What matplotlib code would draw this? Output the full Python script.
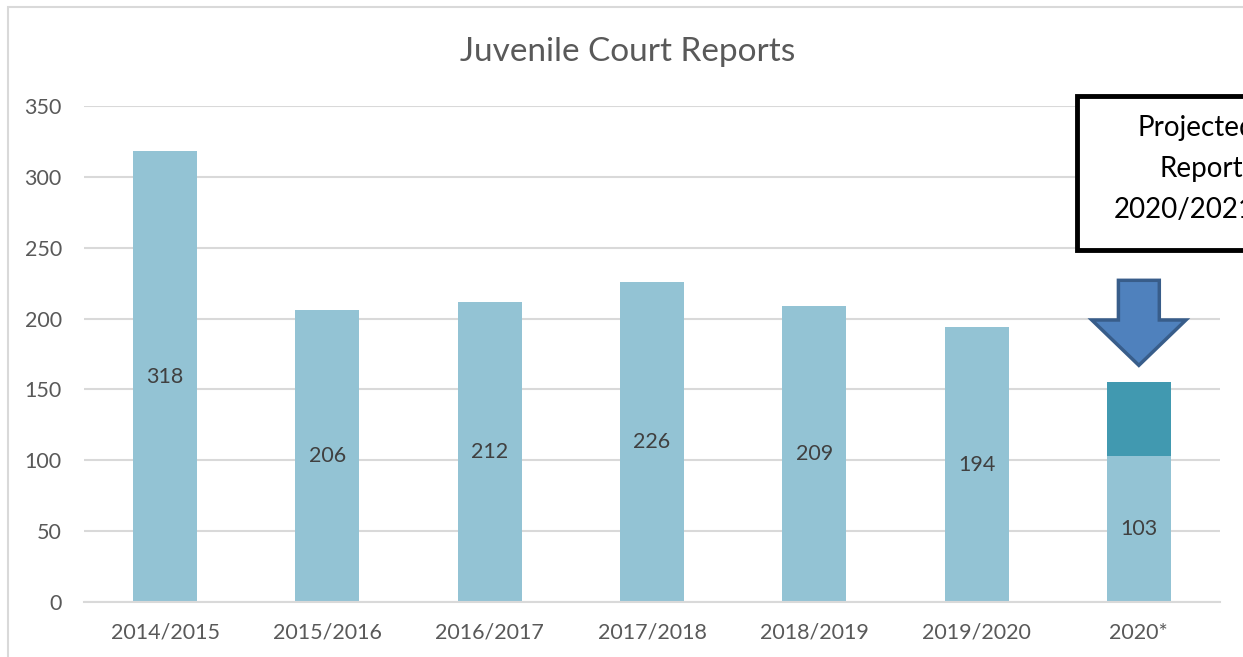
import matplotlib
matplotlib.use('Agg')
import matplotlib.pyplot as plt
import matplotlib.patches as mpatches

# data
years     = ['2014/2015', '2015/2016', '2016/2017', '2017/2018', '2018/2019', '2019/2020', '2020*']
reports   = [318, 206, 212, 226, 209, 194, 103]
projected = [0, 0, 0, 0, 0, 0, 52]   # extra on top of 2020* to reach projection
yticks    = [0, 50, 100, 150, 200, 250, 300, 350]

C_BAR = '#93C3D4'; C_PROJ = '#4199B0'
C_TXT = '#595959'; C_GRID = '#D9D9D9'

plt.rcParams['font.family'] = ['Lato', 'DejaVu Sans']

fig = plt.figure(figsize=(12.43, 6.57), dpi=100)
ax = fig.add_axes([84/1243, 1 - 602/657, (1220-84)/1243, (602-106)/657])

x = list(range(len(years)))
ax.bar(x, reports, width=0.395, color=C_BAR, zorder=2)
ax.bar(x, projected, bottom=reports, width=0.395, color=C_PROJ, zorder=2)

for xi, v in zip(x, reports):
    ax.text(xi, v / 2, str(v), ha='center', va='center', fontsize=15.5, color='#404040', zorder=3)

ax.set_xlim(-0.5, len(years) - 0.5)
ax.set_ylim(0, 350)
ax.set_yticks(yticks)
ax.set_xticks(x)
ax.set_xticklabels(years)
ax.yaxis.grid(True, color=C_GRID, lw=1.5, zorder=0)
ax.tick_params(length=0, labelsize=15.5, colors=C_TXT)
ax.tick_params(axis='x', pad=15)
ax.tick_params(axis='y', pad=16)
for s in ax.spines.values():
    s.set_visible(False)
ax.spines['bottom'].set_visible(True)
ax.spines['bottom'].set_color(C_GRID)
ax.spines['bottom'].set_linewidth(1.5)

fig.text(628/1243, 1 - 52/657, 'Juvenile Court Reports', ha='center', va='center',
         fontsize=24, color=C_TXT)

# chart outer border (clipped at right/bottom edge of the image)
fig.patches.append(mpatches.Rectangle((8/1243, -0.05), 1.2, 1.05 - 7/657, transform=fig.transFigure,
                                      fill=False, ec=C_GRID, lw=1.5))

# callout box (runs past the right edge, as in the original)
fig.patches.append(mpatches.Rectangle((1077/1243, 1 - 250/657), 0.2, 154/657, transform=fig.transFigure,
                                      fill=True, fc='white', ec='black', lw=3.5, zorder=5))
fig.text(1255/1243, 1 - 169/657, 'Projected\nReports\n2020/2021', ha='right', va='center',
         multialignment='right', fontsize=20, color='black', linespacing=1.7, zorder=6)

# arrow pointing down at the projected segment
xc = x[-1]; top = 227; base = 199; tip = 167
sw = 0.126; hw = 0.29
arrow = [(xc - sw, top), (xc + sw, top), (xc + sw, base), (xc + hw, base),
         (xc, tip), (xc - hw, base), (xc - sw, base)]
ax.add_patch(mpatches.Polygon(arrow, closed=True, fc='#4F81BD', ec='#385D8A', lw=2.5, zorder=4))

fig.savefig('out.png', dpi=100)
